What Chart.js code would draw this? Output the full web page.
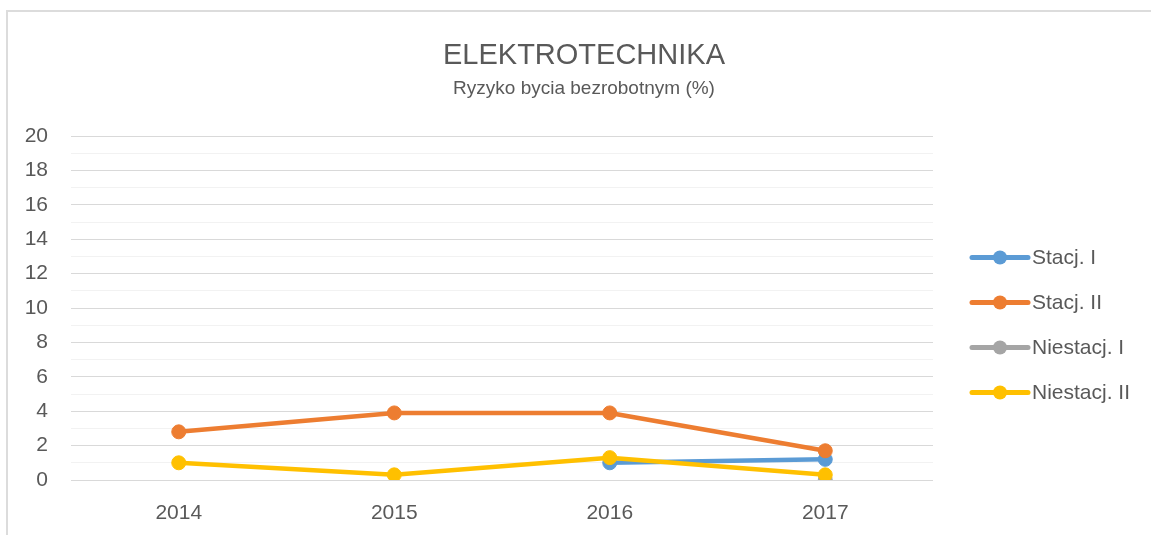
<!DOCTYPE html>
<html>
<head>
<meta charset="utf-8">
<script src="https://cdn.jsdelivr.net/npm/chart.js@4"></script>
<style>
  html, body { margin: 0; padding: 0; background: #ffffff; overflow: hidden; width: 1151px; height: 535px; }
  #frame { position: absolute; left: 6px; top: 10px; width: 1300px; height: 1000px; border: 2px solid #dcdcdc; box-sizing: border-box; }
  #c { position: absolute; left: 7px; top: 11px; }
</style>
</head>
<body>
<div id="frame"></div>
<canvas id="c" width="1154" height="524"></canvas>
<script>
const titleText = 'ELEKTROTECHNIKA';
const subtitleText = 'Ryzyko bycia bezrobotnym (%)';
const categories = ['2014', '2015', '2016', '2017'];
const seriesNames = ['Stacj. I', 'Stacj. II', 'Niestacj. I', 'Niestacj. II'];
const stacjI = [null, null, 1.0, 1.2];
const stacjII = [2.8, 3.9, 3.9, 1.7];
const niestacjI = [null, null, null, 0];
const niestacjII = [1.0, 0.3, 1.3, 0.3];
const seriesColors = ['#5B9BD5', '#ED7D31', '#A5A5A5', '#FFC000'];
const yMin = 0, yMax = 20, yStep = 1, yLabelStep = 2;

const FONT = '"Liberation Sans", Arial, sans-serif';
const TEXT = '#595959';

const values = [stacjI, stacjII, niestacjI, niestacjII];
const datasets = values.map((v, i) => ({
  label: seriesNames[i],
  data: v,
  borderColor: seriesColors[i],
  backgroundColor: seriesColors[i],
  borderWidth: 4.5,
  borderCapStyle: 'round',
  borderJoinStyle: 'round',
  pointRadius: 7,
  pointHoverRadius: 7,
  pointBorderWidth: 1,
  pointBorderColor: seriesColors[i],
  pointBackgroundColor: seriesColors[i],
  spanGaps: false,
  tension: 0,
  order: values.length - i
}));

const legendPlugin = {
  id: 'sideLegend',
  afterDraw(chart) {
    const ctx = chart.ctx;
    const x0 = chart.chartArea.right + 39;
    const y0 = 246.5;
    const gap = 45;
    ctx.save();
    chart.data.datasets.forEach((ds, i) => {
      const y = y0 + i * gap;
      ctx.strokeStyle = ds.borderColor;
      ctx.lineWidth = 5;
      ctx.lineCap = 'round';
      ctx.beginPath();
      ctx.moveTo(x0, y);
      ctx.lineTo(x0 + 56, y);
      ctx.stroke();
      ctx.fillStyle = ds.borderColor;
      ctx.beginPath();
      ctx.arc(x0 + 28, y, 7, 0, Math.PI * 2);
      ctx.fill();
      ctx.fillStyle = TEXT;
      ctx.font = '21px ' + FONT;
      ctx.textAlign = 'left';
      ctx.textBaseline = 'middle';
      ctx.fillText(ds.label, x0 + 60, y + 1);
    });
    ctx.restore();
  }
};

new Chart(document.getElementById('c'), {
  type: 'line',
  data: { labels: categories, datasets },
  plugins: [legendPlugin],
  options: {
    responsive: false,
    animation: false,
    devicePixelRatio: 1,
    layout: { padding: 0 },
    plugins: {
      legend: { display: false },
      tooltip: { enabled: false },
      title: {
        display: true,
        text: titleText,
        color: TEXT,
        font: { family: FONT, size: 29, weight: 'normal', lineHeight: 1.2 },
        padding: { top: 28, bottom: 4 }
      },
      subtitle: {
        display: true,
        text: subtitleText,
        color: TEXT,
        font: { family: FONT, size: 19, weight: 'normal', lineHeight: 1.2 },
        padding: { top: 0, bottom: 35.4 }
      }
    },
    scales: {
      x: {
        offset: true,
        grid: { display: false },
        border: { display: false },
        ticks: { color: TEXT, font: { family: FONT, size: 21 }, padding: 13 },
        afterFit(s) { s.height = 55; }
      },
      y: {
        min: yMin, max: yMax,
        border: { display: false },
        grid: {
          drawTicks: false,
          lineWidth: 1,
          color: (c) => (c.tick && c.tick.value % yLabelStep === 0) ? '#d9d9d9' : '#f2f2f2'
        },
        ticks: {
          stepSize: yStep,
          autoSkip: false,
          color: TEXT,
          font: { family: FONT, size: 21 },
          padding: 23,
          callback: (v) => (v % yLabelStep === 0 ? String(v) : '')
        },
        afterFit(s) { s.width = 64; }
      },
      legendSpace: {
        type: 'linear',
        position: 'right',
        display: true,
        grid: { display: false },
        border: { display: false },
        ticks: { display: false },
        afterFit(s) { s.width = 228; }
      }
    }
  }
});
</script>
</body>
</html>
